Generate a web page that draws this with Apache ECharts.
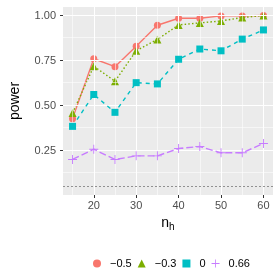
<!DOCTYPE html>
<html><head><meta charset="utf-8">
<script src="https://cdn.jsdelivr.net/npm/echarts@6/dist/echarts.min.js"></script>
<style>html,body{margin:0;padding:0;background:#fff}#c{width:280px;height:280px}</style>
</head><body><div id="c"></div>
<script>
const nh = [15, 20, 25, 30, 35, 40, 45, 50, 55, 60];
const seriesNames = ['\u22120.5', '\u22120.3', '0', '0.66'];
const pMinus05 = [0.427, 0.760, 0.716, 0.830, 0.946, 0.985, 0.985, 0.998, 0.998, 1.000];
const pMinus03 = [0.458, 0.718, 0.635, 0.804, 0.867, 0.948, 0.959, 0.970, 0.989, 1.000];
const pZero    = [0.384, 0.561, 0.462, 0.627, 0.620, 0.757, 0.814, 0.804, 0.869, 0.920];
const p066     = [0.200, 0.257, 0.200, 0.220, 0.220, 0.261, 0.272, 0.237, 0.237, 0.289];
const xTicks = [20, 30, 40, 50, 60];
const xMinor = [15, 25, 35, 45, 55];
const yTicks = [0.25, 0.50, 0.75, 1.00];
const yMinor = [0.125, 0.375, 0.625, 0.875];
const alphaLevel = 0.05;

const colors = ['#F8766D', '#7CAE00', '#00BFC4', '#C77CFF'];
const plusPath = 'path://M4.5,0h1v4.5h4.5v1h-4.5v4.5h-1v-4.5h-4.5v-1h4.5z';
const symbols = ['circle', 'triangle', 'rect', plusPath];
const symSizes = [7, 8, 7, 9];
const lineTypes = ['solid', [1.5, 2.2], [4, 4], [7, 3]];
const values = [pMinus05, pMinus03, pZero, p066];
const font = '"Liberation Sans", Arial, sans-serif';

const chart = echarts.init(document.getElementById('c'), null, {renderer: 'canvas'});

const gridLines = [];
xTicks.forEach(v => gridLines.push({xAxis: v, lineStyle: {color: '#fff', width: 1.1, type: 'solid'}}));
xMinor.forEach(v => gridLines.push({xAxis: v, lineStyle: {color: '#fff', width: 0.55, type: 'solid'}}));
yTicks.forEach(v => gridLines.push({yAxis: v, lineStyle: {color: '#fff', width: 1.1, type: 'solid'}}));
yMinor.forEach(v => gridLines.push({yAxis: v, lineStyle: {color: '#fff', width: 0.55, type: 'solid'}}));
gridLines.push({yAxis: alphaLevel, lineStyle: {color: '#555', width: 0.6, type: [2, 2]}});

const series = [{
  type: 'line', name: '_grid', data: [], z: 1, silent: true,
  markLine: {silent: true, symbol: 'none', label: {show: false}, animation: false, data: gridLines}
}];
seriesNames.forEach((n, i) => {
  series.push({
    type: 'line', name: n, z: 3 + i,
    data: nh.map((x, j) => [x, values[i][j]]),
    symbol: symbols[i], symbolSize: symSizes[i], showSymbol: true,
    itemStyle: {color: colors[i]},
    lineStyle: {color: colors[i], width: 1.4, type: lineTypes[i]}
  });
});

chart.setOption({
  animation: false,
  grid: {left: 55, right: 7, top: 7, bottom: 85, show: true, backgroundColor: '#EBEBEB', borderWidth: 0},
  xAxis: {
    type: 'value', min: 12.75, max: 62.25,
    name: '{n|n}{h|h}', nameLocation: 'middle', nameGap: 17,
    nameTextStyle: {rich: {n: {fontSize: 14, fontFamily: font, color: '#000'}, h: {fontSize: 10, fontFamily: font, color: '#000', padding: [8, 0, 0, 0]}}},
    axisLine: {show: false},
    axisTick: {show: true, length: 3, lineStyle: {color: '#333', width: 1}, customValues: xTicks},
    axisLabel: {customValues: xTicks, margin: 5, fontSize: 11, color: '#4D4D4D', fontFamily: font},
    splitLine: {show: false}
  },
  yAxis: {
    type: 'value', min: 0.0025, max: 1.0475,
    name: 'power', nameLocation: 'middle', nameGap: 41,
    nameTextStyle: {fontSize: 14, fontFamily: font, color: '#000'},
    axisLine: {show: false},
    axisTick: {show: true, length: 3, lineStyle: {color: '#333', width: 1}, customValues: yTicks},
    axisLabel: {customValues: yTicks, margin: 7, fontSize: 11, color: '#4D4D4D', fontFamily: font, formatter: v => v.toFixed(2)},
    splitLine: {show: false}
  },
  legend: {
    left: 88, top: 253,
    itemWidth: 8, itemHeight: 8, itemGap: 6,
    textStyle: {fontSize: 11, fontFamily: font, color: '#000', padding: [0, 0, 0, 4]},
    data: seriesNames.map((n, i) => ({name: n, icon: symbols[i]}))
  },
  series: series
});
</script></body></html>
